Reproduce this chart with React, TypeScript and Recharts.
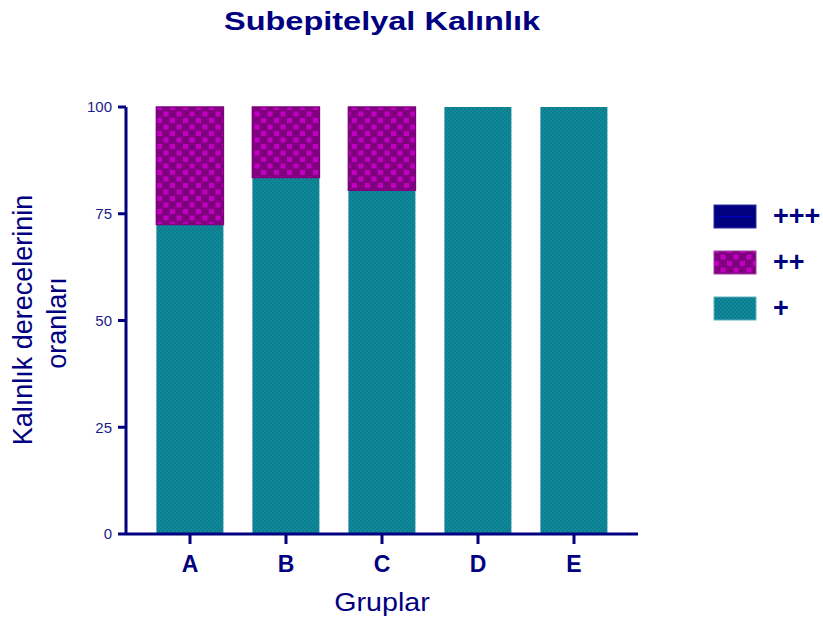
import { BarChart, Bar, XAxis, YAxis } from "recharts";

const groups = ["A", "B", "C", "D", "E"];
const plusOne = [72.5, 83.5, 80.5, 100, 100];
const plusTwo = [27.5, 16.5, 19.5, 0, 0];
const plusThree = [0, 0, 0, 0, 0];
const yTicks = [0, 25, 50, 75, 100];
const legendNames = ["+++", "++", "+"];
const legendFills = ["url(#p3)", "url(#p2)", "url(#p1)"];

const NAVY = "#000080";
const FONT = "'Liberation Sans', Arial, sans-serif";

const data = groups.map((g, i) => ({
  group: g,
  one: plusOne[i],
  two: plusTwo[i],
  three: plusThree[i],
}));

function Patterns() {
  return (
    <svg width={0} height={0} style={{ position: "absolute" }}>
      <defs>
        <pattern id="p1" patternUnits="userSpaceOnUse" width={4} height={4}>
          <rect width={4} height={4} fill="#11899a" />
          <rect width={2} height={2} fill="#0b7e8e" />
          <rect x={2} y={2} width={2} height={2} fill="#0b7e8e" />
        </pattern>
        <pattern id="p2" patternUnits="userSpaceOnUse" width={13} height={13}>
          <rect width={13} height={13} fill="#800080" />
          <rect x={1} y={1} width={5} height={5} fill="#c000c0" />
          <rect x={7.5} y={7.5} width={5} height={5} fill="#c000c0" />
        </pattern>
        <pattern id="p3" patternUnits="userSpaceOnUse" width={4} height={4}>
          <rect width={4} height={4} fill={NAVY} />
        </pattern>
      </defs>
    </svg>
  );
}

export default function App() {
  return (
    <div style={{ position: "absolute", left: 0, top: 0, width: 823, height: 623, background: "#fff" }}>
      <Patterns />
      <div
        style={{
          position: "absolute",
          left: 0,
          width: 764,
          top: 7,
          textAlign: "center",
          fontFamily: FONT,
          fontWeight: "bold",
          fontSize: 25,
          color: NAVY,
          transform: "scaleX(1.3)",
          transformOrigin: "382px 0",
        }}
      >
        Subepitelyal Kalınlık
      </div>
      <BarChart
        width={823}
        height={623}
        data={data}
        margin={{ top: 107, right: 185, bottom: 29, left: 0 }}
        barCategoryGap="15%"
      >
        <XAxis
          dataKey="group"
          height={60}
          padding={{ left: 16, right: 16 }}
          axisLine={{ stroke: NAVY, strokeWidth: 3 }}
          tickLine={{ stroke: NAVY, strokeWidth: 3 }}
          tickSize={10}
          tickMargin={12}
          tick={{ fill: NAVY, fontSize: 23, fontWeight: "bold", fontFamily: FONT }}
          label={{
            content: () => (
              <text
                transform="translate(382,611) scale(1.1,1)"
                textAnchor="middle"
                fill={NAVY}
                fontSize={26}
                fontFamily={FONT}
              >
                Gruplar
              </text>
            ),
          }}
        />
        <YAxis
          width={126}
          domain={[0, 100]}
          ticks={yTicks}
          interval={0}
          axisLine={{ stroke: NAVY, strokeWidth: 3 }}
          tickLine={{ stroke: NAVY, strokeWidth: 3 }}
          tickSize={8}
          tickMargin={6}
          tick={{ fill: "#1c1c8a", fontSize: 15, fontFamily: FONT }}
          label={{
            content: () => (
              <g fill={NAVY} fontSize={27} fontFamily={FONT} textAnchor="middle">
                <text transform="translate(32,320) rotate(-90)">Kalınlık derecelerinin</text>
                <text transform="translate(66,323) rotate(-90)">oranları</text>
              </g>
            ),
          }}
        />
        <Bar dataKey="one" stackId="s" fill="url(#p1)" isAnimationActive={false} />
        <Bar
          dataKey="two"
          stackId="s"
          fill="url(#p2)"
          stroke="#800080"
          strokeWidth={1.5}
          isAnimationActive={false}
        />
        <Bar dataKey="three" stackId="s" fill="url(#p3)" isAnimationActive={false} />
      </BarChart>
      <svg width={120} height={140} style={{ position: "absolute", left: 700, top: 195 }}>
        {legendNames.map((name, i) => (
          <g key={name}>
            <rect
              x={14}
              y={10 + i * 46}
              width={42}
              height={23}
              fill={legendFills[i]}
              stroke={i === 2 ? "#5fb0bd" : i === 1 ? "#a040a0" : "#3030a0"}
              strokeWidth={1}
            />
            {i === 0 && (
              <line x1={18} x2={52} y1={21.5} y2={21.5} stroke="#0000c8" strokeWidth={1} />
            )}
            <text
              x={73}
              y={30 + i * 46}
              fill={NAVY}
              fontSize={27}
              fontWeight="bold"
              fontFamily={FONT}
            >
              {name}
            </text>
          </g>
        ))}
      </svg>
    </div>
  );
}
